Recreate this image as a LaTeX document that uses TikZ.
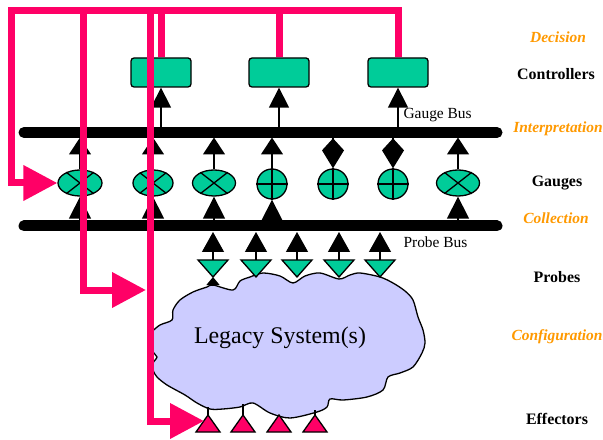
\documentclass[tikz,border=0pt]{standalone}
\usepackage{fontspec}
\setmainfont{Liberation Serif}
\usetikzlibrary{arrows.meta,shapes.geometric}
\definecolor{gr}{HTML}{00CC99}
\definecolor{pk}{HTML}{FF0066}
\definecolor{lav}{HTML}{CCCCFF}
\definecolor{org}{HTML}{FF9900}
\begin{document}
\begin{tikzpicture}[x=1bp,y=-1bp,
  bus/.style={line width=11bp,line cap=round},
  ctrl/.style={draw,fill=gr,rounded corners=3bp,minimum width=60bp,minimum height=29bp,inner sep=0pt,line width=1.3bp},
  gx/.style={draw,fill=gr,ellipse,inner sep=0pt,minimum height=26bp,line width=1.3bp},
  gp/.style={draw,fill=gr,circle,inner sep=0pt,minimum size=30bp,line width=1.3bp},
  conn/.style={line width=1.3bp},
  tri/.style={draw=black,line width=1.3bp,line join=miter},
  pinkline/.style={draw=pk,line width=7bp,line join=miter},
  lab/.style={font=\fontsize{16}{18}\selectfont\bfseries},
  olab/.style={text=org,font=\fontsize{15.5}{18}\selectfont\bfseries\itshape},
  buslab/.style={anchor=west,font=\fontsize{15.5}{18}\selectfont},
]
\useasboundingbox (0,0) rectangle (603,440);

% buses
\coordinate (gbL) at (24,132.5);
\coordinate (gbR) at (497,132.5);
\coordinate (pbL) at (24,226);
\coordinate (pbR) at (497,226);
\draw[bus] (gbL) -- (gbR);
\draw[bus] (pbL) -- (pbR);

% controllers
\node[ctrl] (c1) at (161,72.5) {};
\node[ctrl] (c2) at (279,72.5) {};
\node[ctrl] (c3) at (398,72.5) {};

% gauges
\node[gx,minimum width=44bp] (g1) at (80,183) {};
\node[gx,minimum width=40bp] (g2) at (153,183) {};
\node[gx,minimum width=43bp] (g3) at (214,183) {};
\node[gp] (g4) at (272,184) {};
\node[gp] (g5) at (333,184) {};
\node[gp] (g6) at (393,184) {};
\node[gx,minimum width=43bp] (g7) at (458,183) {};
\foreach \g in {g1,g2,g3,g7}{
  \draw[conn] (\g.142) -- (\g.322) (\g.38) -- (\g.218);
}
\foreach \g in {g4,g5,g6}{
  \draw[conn] (\g.north) -- (\g.south) (\g.west) -- (\g.east);
}

% cloud
\draw[fill=lav,line width=1.3bp] plot[smooth cycle,tension=0.5] coordinates {
(213,285) (233,290) (240,281) (250,277) (263,273) (280,276) (293,283) (305,276)
(320,273) (339,279) (350,275) (360,273) (380,277) (393,283) (405,291) (413,300)
(418,317) (423,330) (425,343) (422,353) (413,367) (400,373) (388,377) (383,390)
(367,397) (343,400) (330,399) (327,407) (317,412) (290,418) (270,413) (253,403)
(240,407) (223,409) (210,409) (197,403) (185,395) (167,385) (157,377) (153,370)
(153,363) (157,357) (153,352) (149,340) (152,332) (160,325) (172,320) (173,310)
(180,300) (193,292) (207,287)};
\node[font=\fontsize{24}{28}\selectfont] (legacy) at (280,338) {Legacy System(s)};

% probes
\foreach \x [count=\i] in {213,256,297,339,380}{
  \filldraw[tri,fill=gr] (\x-15,260) -- (\x+15,260) -- (\x,277) -- cycle;
  \coordinate (p\i t) at (\x,260);
  \coordinate (p\i b) at (\x,277);
  \coordinate (p\i bus) at (\x,232);
  \draw[conn,-{Triangle[length=20bp,width=22bp]}] (p\i t) -- (p\i bus);
}
\coordinate (cl1) at (213,286);
\draw[conn,-{Triangle[length=8bp,width=13bp]}] (cl1) -- (p1b);

% effectors
\foreach \x [count=\i] in {208,243,279,315}{
  \filldraw[tri,fill=pk] (\x-12,432) -- (\x,415) -- (\x+12,432) -- cycle;
  \coordinate (e\i t) at (\x,415);
}
\coordinate (e1w) at (204,421);
\draw[conn] (e1t |- 0,407) -- (e1t);
\draw[conn] (e2t |- 0,404) -- (e2t);
\draw[conn] (e4t |- 0,410) -- (e4t);

% black arrows
\foreach \c in {c1,c2,c3}{
  \draw[conn,-{Triangle[length=20bp,width=20bp]}] (\c.south |- gbL) ++(0,-5) -- (\c.south);
}
\foreach \g in {g1,g2,g3,g4,g7}{
  \draw[conn,-{Triangle[length=17bp,width=22bp]}] (\g.north) -- (\g.north |- 0,137.5);
  \draw[conn,-{Triangle[length=22bp,width=22bp]}] (\g.south |- 0,220) -- (\g.south);
}
\foreach \g in {g5,g6}{
  \draw[conn,-{Kite[length=30bp,width=22bp,inset=12bp]}] (\g.north |- 0,137.5) -- (\g.north);
}

% pink lines
\coordinate (tapB) at (146,290);
\draw[pinkline] (c1.north) -- (c1.north |- 0,11);
\draw[pinkline] (c2.north) -- (c2.north |- 0,11);
\draw[pinkline,-{Triangle[length=34bp,width=34bp]}] (c3.north) -- (c3.north |- 0,11) -- (11,11) |- (g1.west);
\draw[pinkline,-{Triangle[length=34bp,width=34bp]}] (83,11) |- (tapB);
\draw[pinkline,-{Triangle[length=34bp,width=34bp]}] (150,11) |- (e1w);

% labels
\node[buslab] (gblab) at (400,115) {Gauge Bus};
\node[buslab] (pblab) at (400,242) {Probe Bus};
\node[olab] (ldec) at (558,37) {Decision};
\node[lab] (lctl) at (556,74) {Controllers};
\node[olab] (lint) at (558,129) {Interpretation};
\node[lab] (lgau) at (557,183) {Gauges};
\node[olab] (lcol) at (556,218) {Collection};
\node[lab] (lpro) at (557,277) {Probes};
\node[olab] (lcon) at (557,337) {Configuration};
\node[lab] (leff) at (557,419) {Effectors};
\end{tikzpicture}
\end{document}
